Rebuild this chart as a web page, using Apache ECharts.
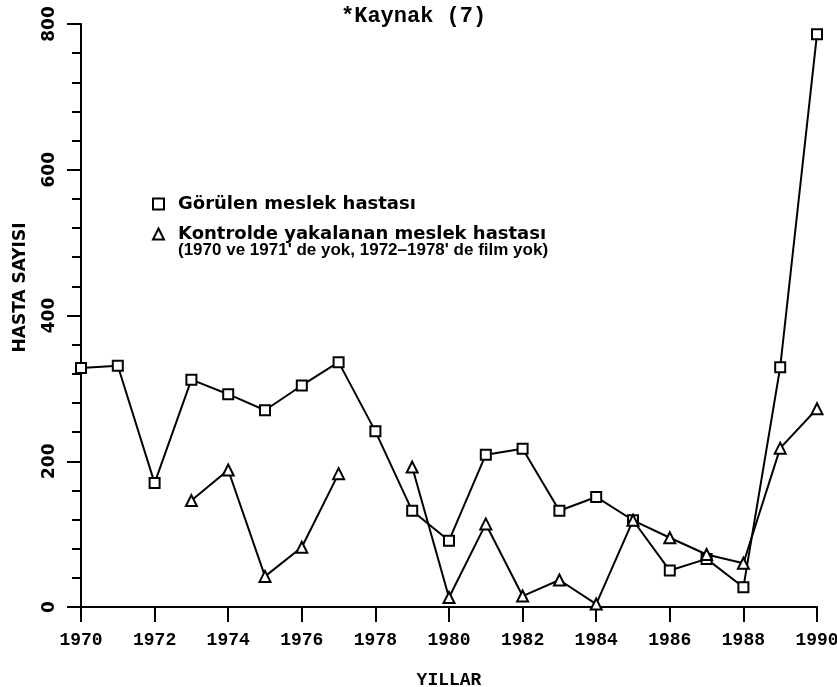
<!DOCTYPE html>
<html>
<head>
<meta charset="utf-8">
<script src="https://cdn.jsdelivr.net/npm/echarts@6/dist/echarts.min.js"></script>
<style>
html,body{margin:0;padding:0;background:#fff;}
#chart{width:837px;height:687px;}
</style>
</head>
<body>
<div id="chart"></div>
<script>
// Years (x categories on a value axis)
var years = [1970,1971,1972,1973,1974,1975,1976,1977,1978,1979,1980,1981,1982,1983,1984,1985,1986,1987,1988,1989,1990];
// Görülen meslek hastası
var gorulen = [328,331,170,312,292,270,304,336,241,132,91,209,217,132,151,119,50,66,27,329,786];
// Kontrolde yakalanan meslek hastası (null = no data)
var kontrol = [null,null,null,146,188,42,82,183,null,192,13,114,15,37,4,119,95,72,60,218,272];
var yTicks = [0,200,400,600,800];
var xTicks = [1970,1972,1974,1976,1978,1980,1982,1984,1986,1988,1990];

var seriesName1 = 'Görülen meslek hastası';
var seriesName2 = 'Kontrolde yakalanan meslek hastası';
var legendLine2 = "(1970 ve 1971' de yok, 1972\u20131978' de film yok)";

function pairs(vals){
  return years.map(function(y,i){ return [y, vals[i] === null ? '-' : vals[i]]; });
}

var chart = echarts.init(document.getElementById('chart'), null, {renderer:'canvas'});
var option = {
  backgroundColor:'#ffffff',
  animation:false,
  title:{
    text:'*Kaynak (7)',
    left:336, top:0,
    textStyle:{fontFamily:'Liberation Mono', fontWeight:'bold', fontSize:22, color:'#000'}
  },
  legend:{
    orient:'vertical',
    left:147, top:190,
    itemWidth:11, itemHeight:11,
    itemGap:12,
    textStyle:{fontFamily:'DejaVu Sans', fontWeight:'bold', fontSize:18, color:'#000', padding:[0,0,0,9]},
    data:[
      {name:seriesName1, icon:'rect', itemStyle:{color:'#fff', borderColor:'#000', borderWidth:2}},
      {name:seriesName2, icon:'triangle', itemStyle:{color:'#fff', borderColor:'#000', borderWidth:2}}
    ]
  },
  graphic:[{
    type:'text', left:178, top:242,
    style:{text:legendLine2, font:'bold 17px "Liberation Sans"', fill:'#000'}
  }],
  grid:{left:81, right:20, top:24, bottom:80, outerBoundsMode:'none', containLabel:false},
  xAxis:{
    type:'value', min:1970, max:1990, interval:2,
    name:'YILLAR', nameLocation:'middle', nameGap:64,
    nameTextStyle:{fontFamily:'Liberation Mono', fontWeight:'bold', fontSize:18, color:'#000'},
    axisLine:{lineStyle:{color:'#000', width:2}},
    axisTick:{show:true, length:15, lineStyle:{color:'#000', width:2}},
    axisLabel:{fontFamily:'Liberation Mono', fontWeight:'bold', fontSize:18, color:'#000', margin:24,
      formatter:function(v){ return xTicks.indexOf(v) >= 0 ? String(v) : ''; }},
    splitLine:{show:false}
  },
  yAxis:{
    type:'value', min:0, max:800, interval:200,
    name:'HASTA SAYISI', nameLocation:'middle', nameGap:52, nameRotate:90,
    nameTextStyle:{fontFamily:'DejaVu Sans', fontWeight:'bold', fontSize:17, color:'#000', padding:[0,0,0,56]},
    axisLine:{show:true, lineStyle:{color:'#000', width:2}},
    axisTick:{show:true, length:14, lineStyle:{color:'#000', width:2}},
    minorTick:{show:true, splitNumber:5, length:9, lineStyle:{color:'#000', width:2}},
    axisLabel:{rotate:90, fontFamily:'DejaVu Sans', fontWeight:'bold', fontSize:17, color:'#000', margin:23,
      formatter:function(v){ return yTicks.indexOf(v) >= 0 ? String(v) : ''; }},
    splitLine:{show:false}
  },
  series:[
    {
      name:seriesName1, type:'line', data:pairs(gorulen),
      symbol:'rect', symbolSize:10,
      lineStyle:{color:'#000', width:2},
      itemStyle:{color:'#fff', borderColor:'#000', borderWidth:2},
      z:3
    },
    {
      name:seriesName2, type:'line', data:pairs(kontrol), connectNulls:false,
      symbol:'triangle', symbolSize:11,
      lineStyle:{color:'#000', width:2},
      itemStyle:{color:'#fff', borderColor:'#000', borderWidth:2},
      z:4
    }
  ]
};
chart.setOption(option);
</script>
</body>
</html>
